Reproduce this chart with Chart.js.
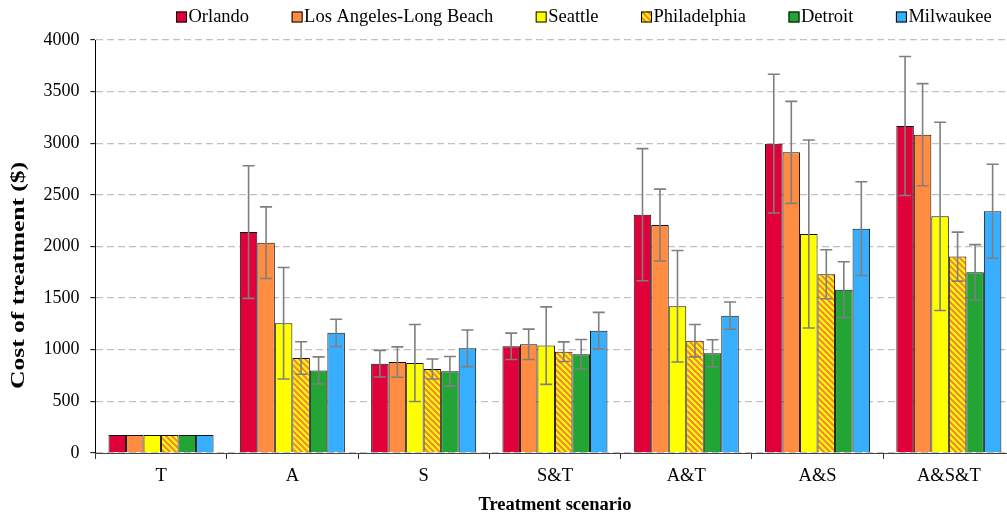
<!DOCTYPE html>
<html>
<head>
<meta charset="utf-8">
<script src="https://cdn.jsdelivr.net/npm/chart.js@4"></script>
<style>
  html, body { margin: 0; padding: 0; background: #fff; overflow: hidden; }
  #wrap { width: 1007px; height: 514px; overflow: hidden; }
  canvas { display: block; }
</style>
</head>
<body>
<div id="wrap"><canvas id="c" width="1020" height="514"></canvas></div>
<script>
const categories = ['T', 'A', 'S', 'S&T', 'A&T', 'A&S', 'A&S&T'];
const seriesNames = ['Orlando', 'Los Angeles-Long Beach', 'Seattle', 'Philadelphia', 'Detroit', 'Milwaukee'];

const orlando      = [174, 2140, 865, 1033, 2308, 2996, 3167];
const orlandoErr   = [0, 642, 129, 128, 640, 672, 673];
const losAngeles   = [174, 2037, 881, 1053, 2208, 2912, 3083];
const losAngelesErr= [0, 347, 147, 147, 348, 494, 494];
const seattle      = [174, 1256, 872, 1040, 1421, 2121, 2292];
const seattleErr   = [0, 540, 373, 375, 540, 910, 912];
const philadelphia = [174, 920, 814, 981, 1088, 1731, 1902];
const philadelphiaErr = [0, 158, 97, 95, 157, 237, 237];
const detroit      = [174, 800, 791, 956, 966, 1582, 1750];
const detroitErr   = [0, 131, 143, 143, 131, 270, 268];
const milwaukee    = [174, 1164, 1014, 1185, 1330, 2173, 2341];
const milwaukeeErr = [0, 132, 177, 177, 132, 454, 455];

const yTicks = [0, 500, 1000, 1500, 2000, 2500, 3000, 3500, 4000];
const yTitle = 'Cost of treatment ($)';
const xTitle = 'Treatment scenario';

// Hatch pattern for Philadelphia
function makeHatch() {
  const s = 6;
  const p = document.createElement('canvas');
  p.width = s; p.height = s;
  const g = p.getContext('2d');
  g.fillStyle = '#FFFF00';
  g.fillRect(0, 0, s, s);
  g.strokeStyle = '#F5873A';
  g.lineWidth = 2.2;
  g.beginPath();
  g.moveTo(-1, -1); g.lineTo(s + 1, s + 1);
  g.moveTo(-1, s - 1); g.lineTo(1, s + 1);
  g.moveTo(s - 1, -1); g.lineTo(s + 1, 1);
  g.stroke();
  return g.createPattern(p, 'repeat');
}
const hatch = makeHatch();

const fills = ['#E0003A', '#FF8C40', '#FFFF00', hatch, '#22A535', '#38AEFF'];
const values = [orlando, losAngeles, seattle, philadelphia, detroit, milwaukee];
const errors = [orlandoErr, losAngelesErr, seattleErr, philadelphiaErr, detroitErr, milwaukeeErr];

const FONT = "'Liberation Serif', 'Times New Roman', serif";

const errorBarPlugin = {
  id: 'errorBars',
  afterDatasetsDraw(chart) {
    const ctx = chart.ctx;
    const y = chart.scales.y;
    ctx.save();
    ctx.strokeStyle = '#7f7f7f';
    ctx.lineWidth = 1.6;
    chart.data.datasets.forEach((ds, di) => {
      const meta = chart.getDatasetMeta(di);
      meta.data.forEach((bar, i) => {
        const e = ds.errors[i];
        if (!e) return;
        const v = ds.data[i];
        const top = y.getPixelForValue(v + e);
        const bot = y.getPixelForValue(v - e);
        const x = bar.x;
        const cap = 6;
        ctx.beginPath();
        ctx.moveTo(x, top); ctx.lineTo(x, bot);
        ctx.moveTo(x - cap, top); ctx.lineTo(x + cap, top);
        ctx.moveTo(x - cap, bot); ctx.lineTo(x + cap, bot);
        ctx.stroke();
      });
    });
    ctx.restore();
  }
};

// Y-axis title (stretched along its length like the reference)
const yTitlePlugin = {
  id: 'yTitle',
  afterDraw(chart) {
    const ctx = chart.ctx;
    const area = chart.chartArea;
    ctx.save();
    ctx.font = 'bold 18.5px ' + FONT;
    ctx.fillStyle = '#000';
    ctx.textAlign = 'center';
    ctx.textBaseline = 'middle';
    const cy = area.top + (area.bottom - area.top) * 0.57;
    ctx.translate(19, cy);
    ctx.rotate(-Math.PI / 2);
    ctx.scale(1.38, 1);
    ctx.fillText(yTitle, 0, 0);
    ctx.restore();
  }
};

const legendPlugin = {
  id: 'customLegend',
  afterDraw(chart) {
    const ctx = chart.ctx;
    ctx.save();
    ctx.font = '18.5px ' + FONT;
    ctx.textBaseline = 'middle';
    ctx.textAlign = 'left';
    const box = 11, gapText = 1.5, gapItem = 42.5;
    let x = 176;
    const yc = 17;
    chart.data.datasets.forEach((ds) => {
      ctx.fillStyle = ds.backgroundColor;
      ctx.fillRect(x, yc - box / 2, box, box);
      ctx.strokeStyle = '#000';
      ctx.lineWidth = 1;
      ctx.strokeRect(x + 0.5, yc - box / 2 + 0.5, box - 1, box - 1);
      ctx.fillStyle = '#000';
      const tx = x + box + gapText;
      ctx.fillText(ds.label, tx, yc);
      x = tx + ctx.measureText(ds.label).width + gapItem;
    });
    ctx.restore();
  }
};

new Chart(document.getElementById('c'), {
  type: 'bar',
  data: {
    labels: categories,
    datasets: seriesNames.map((name, k) => ({
      label: name,
      data: values[k],
      errors: errors[k],
      backgroundColor: fills[k],
      borderColor: '#111',
      borderWidth: 1,
      categoryPercentage: 0.8,
      barPercentage: 1.0
    }))
  },
  options: {
    responsive: false,
    animation: false,
    devicePixelRatio: 1,
    layout: { padding: { top: 40, right: 5.5, left: 0, bottom: 0 } },
    plugins: {
      legend: { display: false },
      tooltip: { enabled: false }
    },
    scales: {
      x: {
        afterFit(scale) { scale.height = 61; },
        grid: {
          display: true,
          drawOnChartArea: false,
          drawTicks: true,
          tickLength: 6,
          tickColor: '#333',
          tickWidth: 1,
          offset: true
        },
        border: { display: true, color: '#444', width: 1 },
        ticks: {
          color: '#000',
          font: { family: FONT, size: 18.5 },
          padding: 6,
          maxRotation: 0
        },
        title: {
          display: true,
          text: xTitle,
          color: '#000',
          font: { family: FONT, size: 18.5, weight: 'bold' },
          padding: { top: 0, bottom: -2 }
        }
      },
      y: {
        min: 0,
        max: 4000,
        afterFit(scale) { scale.width = 95.4; },
        afterBuildTicks(scale) { scale.ticks = yTicks.map(v => ({ value: v })); },
        grid: {
          color: '#c0c0c0',
          lineWidth: 1.3,
          drawTicks: true,
          tickLength: 5,
          tickColor: '#000',
          tickWidth: 1,
          tickBorderDash: []
        },
        border: { display: true, color: '#000', width: 1, dash: [7, 4] },
        ticks: {
          color: '#000',
          font: { family: FONT, size: 18 },
          padding: 11,
          callback: (v) => String(v)
        },
        title: { display: false }
      }
    }
  },
  plugins: [errorBarPlugin, yTitlePlugin, legendPlugin]
});
</script>
</body>
</html>
